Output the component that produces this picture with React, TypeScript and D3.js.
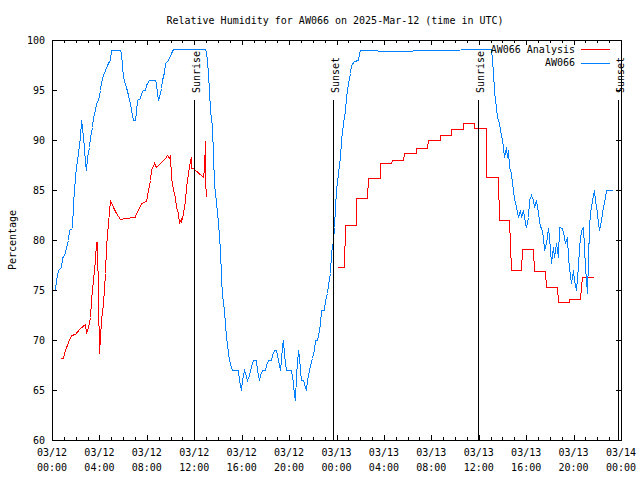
import React from "react";
import * as d3 from "d3";

// ---- data (hours since 2025-03-12 00:00 UTC) ----
const blueHours = [0.25,0.37,0.51,0.73,0.84,1.07,1.21,1.35,1.43,1.66,1.77,1.91,2.06,2.19,2.34,2.42,2.53,2.67,2.78,2.87,2.95,3.09,3.24,3.37,3.46,3.60,3.69,3.88,4.02,4.17,4.30,4.44,4.64,4.78,4.92,5.01,5.71,5.85,5.99,6.21,6.41,6.55,6.70,6.83,6.97,7.06,7.20,7.39,7.54,7.67,7.88,7.96,8.15,8.66,8.80,8.89,8.94,9.08,9.17,9.28,9.44,9.56,9.73,9.84,10.07,10.20,12.88,12.96,13.04,13.15,13.24,13.36,13.49,13.58,13.66,13.80,14.00,14.14,14.23,14.33,14.48,14.62,14.79,14.92,15.07,15.18,15.68,15.77,15.91,16.02,16.10,16.19,16.31,16.44,16.59,16.73,16.86,16.98,17.18,17.32,17.45,17.57,17.71,17.93,18.08,18.21,18.44,18.58,18.69,18.92,19.06,19.20,19.28,19.39,19.48,19.56,19.71,20.19,20.32,20.41,20.46,20.61,20.74,20.83,20.94,21.03,21.20,21.31,21.45,21.53,21.64,21.79,21.92,22.07,22.15,22.38,22.49,22.57,22.66,22.93,23.05,23.16,23.27,23.42,23.56,23.69,23.78,23.90,23.98,24.12,24.26,24.40,24.54,24.68,24.82,24.96,25.10,25.24,25.44,25.80,25.89,26.00,28.90,31.85,37.05,37.13,37.18,37.27,37.35,37.47,37.58,37.69,37.81,37.92,38.03,38.14,38.26,38.36,38.47,38.59,38.70,38.82,39.01,39.16,39.29,39.44,39.58,39.72,39.86,40.00,40.14,40.28,40.42,40.56,40.70,40.84,40.98,41.13,41.27,41.40,41.54,41.69,41.82,41.96,42.11,42.24,42.39,42.53,42.66,42.81,43.03,43.17,43.31,43.42,43.51,43.65,43.79,43.93,44.07,44.21,44.28,44.35,44.49,44.64,44.77,44.91,45.00,45.11,45.19,45.34,45.42,45.51,45.62,45.70,45.82,45.95,46.10,46.18,46.29,46.41,46.52,46.63,46.75,47.22];
const blueValues = [75.0,76.0,77.0,77.3,78.2,78.7,79.3,80.0,81.0,81.2,83.7,86.3,87.3,88.7,90.3,92.0,91.3,89.3,87.7,87.0,88.3,89.3,90.3,91.3,92.3,93.0,93.7,94.0,95.0,95.8,96.5,97.0,97.5,97.9,98.0,99.0,99.0,98.7,96.3,95.3,94.5,93.7,93.0,92.0,92.0,92.8,94.0,94.2,94.7,95.0,95.0,95.5,96.0,96.0,95.7,94.7,94.0,94.7,95.2,96.0,96.8,97.7,97.9,98.2,98.7,99.1,99.1,98.8,98.0,96.5,95.0,93.0,91.3,88.5,85.6,83.8,81.7,79.0,76.3,74.5,73.0,71.5,69.5,68.0,67.3,67.0,67.0,66.0,65.0,66.0,66.5,67.0,66.7,66.0,66.5,67.0,67.7,68.0,68.0,67.0,66.0,66.5,67.0,67.0,67.5,68.0,68.0,68.5,69.0,69.0,68.0,67.0,68.0,69.5,70.0,68.5,67.0,67.0,65.7,64.5,64.0,66.5,69.0,68.3,67.0,66.0,66.0,65.3,65.0,66.0,67.0,67.5,68.2,69.0,70.0,70.0,71.0,71.7,73.0,73.0,74.0,74.7,75.5,76.7,78.7,80.0,81.3,83.3,85.0,86.7,88.3,90.0,91.7,93.0,94.3,95.7,96.7,97.5,97.9,98.0,98.7,99.0,98.9,99.0,99.1,98.0,96.7,95.0,94.0,93.3,92.3,91.7,91.0,90.0,89.3,88.3,89.3,88.3,89.0,87.3,86.7,85.7,84.2,83.3,82.3,83.0,82.3,83.0,81.7,81.3,82.3,84.0,84.5,84.0,83.3,84.0,82.7,81.3,81.3,80.3,79.0,79.7,81.2,80.3,77.7,79.3,78.3,79.7,78.3,81.3,81.2,80.3,79.7,80.3,78.3,77.3,75.7,77.0,76.0,75.0,76.3,77.3,79.3,81.0,81.3,79.3,77.3,74.7,78.0,81.3,82.7,83.3,84.5,85.0,84.0,82.7,81.7,81.0,82.0,82.7,83.3,84.3,85.0,85.0];

const redHours = [0.65,0.93,1.07,1.35,1.64,1.91,2.34,2.76,2.90,3.04,3.18,3.32,3.46,3.60,3.74,3.81,3.88,3.94,4.02,4.17,4.30,4.44,4.59,4.72,4.92,5.14,5.43,5.71,6.13,6.97,7.12,7.25,7.54,7.96,8.09,8.24,8.38,8.60,8.80,8.94,9.22,9.50,9.73,9.84,9.95,10.07,10.20,10.35,10.49,10.62,10.71,10.85,10.91,11.05,11.19,11.33,11.47,11.61,11.70,11.75,11.89,12.73,12.82,12.90,12.94,12.96,18.0,24.01,24.62,24.68,25.61,25.67,26.56,26.64,27.63,27.69,28.62,28.67,29.60,29.66,30.67,30.73,31.62,31.70,32.69,32.75,33.62,33.68,34.63,34.71,35.56,35.64,36.57,36.63,37.62,37.69,38.59,38.68,39.58,39.67,40.56,40.64,41.60,41.69,42.58,42.67,43.59,43.65,44.55,44.64,44.72,45.62];
const redValues: (number | null)[] = [68.2,68.2,69.0,69.8,70.5,70.6,71.2,71.6,70.7,71.3,72.3,74.0,76.0,78.0,79.8,79.8,74.3,68.7,70.3,72.0,73.7,76.7,79.3,81.7,84.0,83.3,82.7,82.1,82.2,82.3,82.7,83.0,83.7,83.9,85.0,86.0,87.0,87.7,87.3,87.5,87.8,88.2,88.5,88.2,88.5,86.3,85.0,84.3,83.3,82.7,81.7,82.2,81.8,82.7,84.0,85.3,86.7,88.0,88.3,87.2,87.2,86.3,87.2,89.9,86.0,84.3,null,77.3,77.3,81.5,81.5,84.2,84.2,86.2,86.2,87.7,87.7,88.0,88.0,88.7,88.7,89.2,89.2,90.0,90.0,90.5,90.5,91.1,91.1,91.7,91.7,91.2,91.2,86.3,86.3,82.0,82.0,77.0,77.0,79.1,79.1,76.9,76.9,75.3,75.3,73.8,73.8,74.1,74.1,75.3,76.3,76.3];

const sunHours = [11.97, 23.69, 35.92, 47.78];
const sunLabels = ["Sunrise", "Sunset", "Sunrise", "Sunset"];

const yTicks = [60, 65, 70, 75, 80, 85, 90, 95, 100];
const seriesNames = ["AW066 Analysis", "AW066"];
const seriesColors = ["#ff0000", "#0080ff"];
const title = "Relative Humidity for AW066 on 2025-Mar-12 (time in UTC)";
const yLabel = "Percentage";

const START = Date.UTC(2025, 2, 12, 0, 0);
const toDate = (h: number) => new Date(START + h * 3600e3);

export default function App() {
  const W = 640, H = 480;
  const L = 52, R = 621, T = 40, B = 440;
  const x = d3.scaleUtc().domain([toDate(0), toDate(48)]).range([L, R]);
  const y = d3.scaleLinear().domain([60, 100]).range([B, T]);
  const font = "'DejaVu Sans Mono', monospace";
  const fs = 10;

  const blue = blueHours.map((h, i) => [h, blueValues[i]] as [number, number]);
  const red = redHours.map((h, i) => [h, redValues[i]] as [number, number | null]);

  const line = d3.line<[number, number | null]>()
    .defined((d) => d[1] !== null)
    .x((d) => Math.round(x(toDate(d[0]))) + 0.5)
    .y((d) => Math.round(y(d[1] as number)) + 0.5);

  const hourTicks = x.ticks(d3.utcHour.every(1) as any);
  const majorTicks = x.ticks(d3.utcHour.every(4) as any);
  const fmtDate = d3.utcFormat("%m/%d");
  const fmtTime = d3.utcFormat("%H:%M");

  return (
    <svg width={W} height={H} style={{ position: "absolute", left: 0, top: 0, background: "#fff" }}
      fontFamily={font} fontSize={fs}>
      <rect x={0} y={0} width={W} height={H} fill="#fff" />
      <text x={335} y={20} textAnchor="middle" dominantBaseline="central">{title}</text>
      <text transform={`translate(12,${(T + B) / 2}) rotate(-90)`} textAnchor="middle" dominantBaseline="central">{yLabel}</text>

      <g shapeRendering="crispEdges" stroke="#000" strokeWidth={1}>
        {hourTicks.map((t, i) => {
          const major = t.getUTCHours() % 4 === 0;
          const len = major ? 5 : 3;
          const xx = Math.round(x(t)) + 0.5;
          return (
            <g key={"xt" + i}>
              <line x1={xx} x2={xx} y1={B} y2={B - len} />
              <line x1={xx} x2={xx} y1={T} y2={T + len} />
            </g>
          );
        })}
        {yTicks.map((v, i) => {
          const yy = Math.round(y(v)) + 0.5;
          return (
            <g key={"yt" + i}>
              <line x1={L} x2={L + 5} y1={yy} y2={yy} />
              <line x1={R} x2={R - 5} y1={yy} y2={yy} />
            </g>
          );
        })}
      </g>

      {yTicks.map((v, i) => (
        <text key={"yl" + i} x={45} y={y(v)} textAnchor="end" dominantBaseline="central">{v}</text>
      ))}
      {majorTicks.map((t, i) => (
        <g key={"xl" + i}>
          <text x={x(t)} y={452} textAnchor="middle" dominantBaseline="central">{fmtDate(t)}</text>
          <text x={x(t)} y={467} textAnchor="middle" dominantBaseline="central">{fmtTime(t)}</text>
        </g>
      ))}

      <path d={line(red) || ""} fill="none" stroke={seriesColors[0]} strokeWidth={1} shapeRendering="crispEdges" />
      <path d={line(blue) || ""} fill="none" stroke={seriesColors[1]} strokeWidth={1} shapeRendering="crispEdges" />

      {sunHours.map((h, i) => {
        const sx = Math.round(x(toDate(h))) + 0.5;
        return (
          <g key={"sun" + i}>
            <line x1={sx} x2={sx} y1={y(94)} y2={B} stroke="#000" strokeWidth={1} shapeRendering="crispEdges" />
            <text transform={`translate(${sx + 5.5},${y(94) - 7}) rotate(-90)`} textAnchor="start">{sunLabels[i]}</text>
          </g>
        );
      })}

      {seriesNames.map((n, i) => (
        <g key={"lg" + i}>
          <text x={575} y={49 + i * 13.5} textAnchor="end" dominantBaseline="central">{n}</text>
          <line x1={581} x2={610} y1={Math.round(49 + i * 13.5) + 0.5} y2={Math.round(49 + i * 13.5) + 0.5}
            stroke={seriesColors[i]} strokeWidth={1} shapeRendering="crispEdges" />
        </g>
      ))}

      <rect x={L + 0.5} y={T + 0.5} width={R - L} height={B - T} fill="none" stroke="#000" strokeWidth={1} shapeRendering="crispEdges" />
    </svg>
  );
}
